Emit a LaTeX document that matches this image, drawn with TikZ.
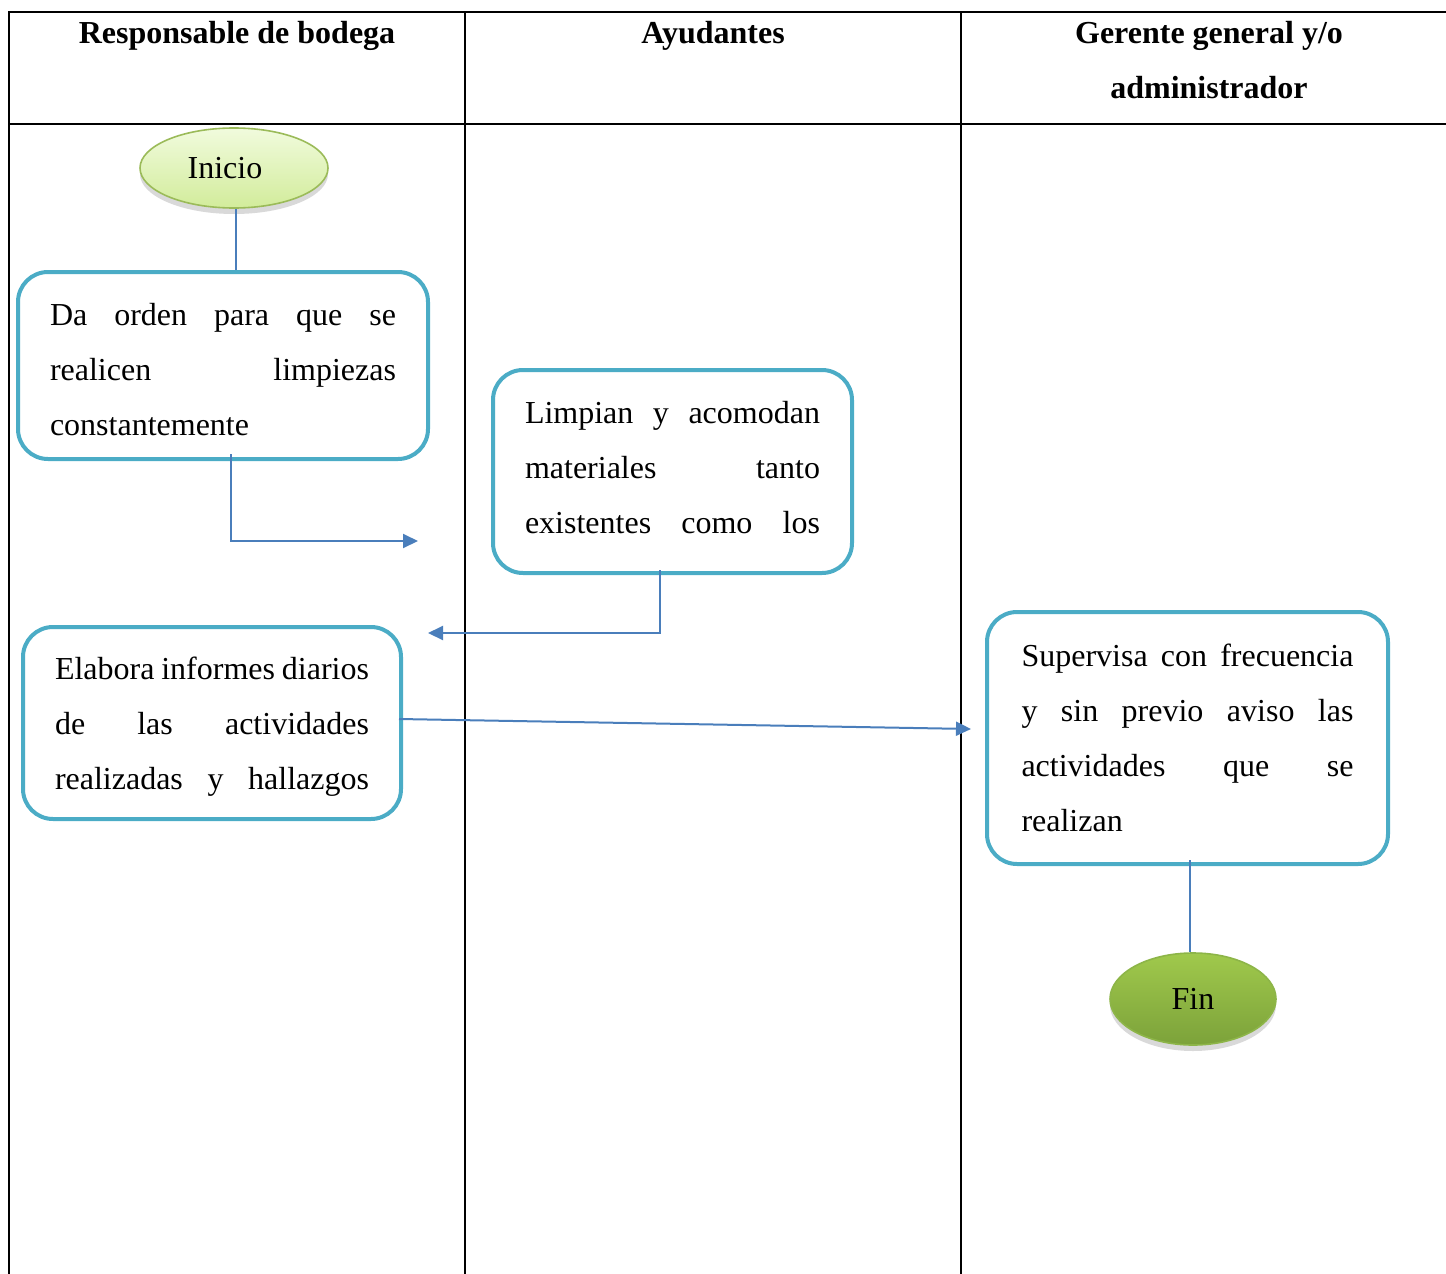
\documentclass[tikz,border=0pt]{standalone}
\usepackage{fontspec}
\setmainfont{Liberation Serif}
\usetikzlibrary{arrows.meta,shapes.geometric,shadows}
\definecolor{boxline}{HTML}{4BACC6}
\definecolor{conncol}{HTML}{4A7EBB}
\definecolor{iniedge}{HTML}{9BBB59}
\definecolor{initop}{HTML}{F1FBDD}
\definecolor{inibot}{HTML}{D2EC9B}
\definecolor{finedge}{HTML}{8DB548}
\definecolor{fintop}{HTML}{A0C94C}
\definecolor{finbot}{HTML}{7CA23A}
% justified line: words spread over the given width
\newcommand\jline[2]{\leavevmode\hbox to #1{#2}}
\newcommand\gap{\hskip 3pt plus 1fil minus 3pt}
\begin{document}
\begin{tikzpicture}[x=0.5pt,y=-0.5pt,
  every node/.style={font=\fontsize{16}{27.5}\selectfont, inner sep=0pt},
  grid/.style={line width=1.25pt, black},
  head/.style={font=\fontsize{16}{27.5}\selectfont\bfseries, align=center},
  task/.style={draw=boxline, line width=2pt, rounded corners=15pt, fill=white},
  body/.style={align=left},
  conn/.style={draw=conncol, line width=1pt},
  flow/.style={conn, -{Triangle[length=7.5pt,width=7pt]}},
  terminal/.style={ellipse, line width=0.8pt,
    drop shadow={shadow xshift=0pt, shadow yshift=-3pt, opacity=0.25, fill=black!60}},
  startev/.style={terminal, draw=iniedge, top color=initop, bottom color=inibot},
  endev/.style={terminal, draw=finedge, top color=fintop, bottom color=finbot},
]
\useasboundingbox (0,0) rectangle (1446,1274);

% swimlane table
\draw[grid] (9,1274) -- (9,12) -- (1446,12);
\draw[grid] (9,124) -- (1446,124);
\draw[grid] (465,12) -- (465,1274);
\draw[grid] (961,12) -- (961,1274);

\node[head, anchor=base] (h1) at (237,43) {Responsable de bodega};
\node[head, anchor=base] (h2) at (713,43) {Ayudantes};
\node[head, anchor=base] (h3) at (1209,98) {Gerente general y/o\\administrador};

% start / end
\node[startev, minimum width=94pt, minimum height=40pt] (ini) at (234,168) {Inicio\kern9pt};
\node[endev, minimum width=83pt, minimum height=46pt] (fin) at (1193,999) {Fin};

% activity boxes
\node[task, minimum width=205pt, minimum height=93.5pt] (b1) at (223,365.5) {};
\node[task, minimum width=179.5pt, minimum height=101.5pt] (b2) at (672.5,471.5) {};
\node[task, minimum width=189pt, minimum height=96pt] (b3) at (212,723) {};
\node[task, minimum width=200.5pt, minimum height=126pt] (b4) at (1187.5,738) {};

% activity texts
\node[body, text width=173pt] (b1t) at ([yshift=-2pt]b1.center)
  {\jline{173pt}{Da\gap orden\gap para\gap que\gap se}\\
   \jline{173pt}{realicen\gap limpiezas}\\
   constantemente};
\node[body, text width=147.5pt] (b2t) at ([yshift=2pt]b2.center)
  {\jline{147.5pt}{Limpian\gap y\gap acomodan}\\
   \jline{147.5pt}{materiales\gap tanto}\\
   \jline{147.5pt}{existentes\gap como\gap los}};
\node[body, text width=157pt] (b3t) at ([yshift=-2pt]b3.center)
  {\jline{157pt}{Elabora\gap informes\gap diarios}\\
   \jline{157pt}{de\gap las\gap actividades}\\
   \jline{157pt}{realizadas\gap y\gap hallazgos}};
\node[body, text width=166pt] (b4t) at (b4.center)
  {\jline{166pt}{Supervisa\gap con\gap frecuencia}\\
   \jline{166pt}{y\gap sin\gap previo\gap aviso\gap las}\\
   \jline{166pt}{actividades\gap que\gap se}\\
   realizan};

% free ends of the arrows
\coordinate (t1) at (418,541);
\coordinate (t2) at (428,633);
\coordinate (t3) at (971,729);

% connectors
\draw[conn] ([xshift=1pt]ini.south) -- ([xshift=6.5pt]b1.north);
\draw[flow] ([xshift=4pt,yshift=3.5pt]b1.south) |- (t1);
\draw[flow] ([xshift=-6.25pt,yshift=2.5pt]b2.south) |- (t2);
\draw[flow] ([xshift=-2pt,yshift=2pt]b3.east) -- (t3);
\draw[conn] ([xshift=1.25pt,yshift=3pt]b4.south) -- ([xshift=-1.5pt]fin.north);
\end{tikzpicture}
\end{document}
